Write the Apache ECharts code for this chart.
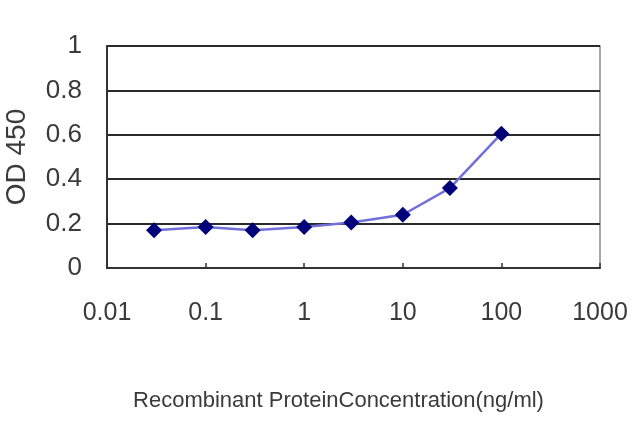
<!DOCTYPE html>
<html>
<head>
<meta charset="utf-8">
<script src="https://cdn.jsdelivr.net/npm/echarts@6/dist/echarts.min.js"></script>
<style>html,body{margin:0;padding:0;background:#fff}#c{width:640px;height:427px}</style>
</head>
<body>
<div id="c"></div>
<script>
var concentrations = [0.03, 0.1, 0.3, 1, 3, 10, 30, 100];
var odValues = [0.17, 0.185, 0.17, 0.185, 0.205, 0.24, 0.36, 0.605];
var yTicks = [0, 0.2, 0.4, 0.6, 0.8, 1];
var xTicks = [0.01, 0.1, 1, 10, 100, 1000];

var chart = echarts.init(document.getElementById('c'));
var font = '"Liberation Sans", Arial, sans-serif';
chart.setOption({
  backgroundColor: '#fff',
  animation: false,
  grid: {left: 107, right: 40, top: 46, bottom: 159, outerBoundsMode: 'none', containLabel: false,
    show: true, borderColor: '#8a8a8a', borderWidth: 1.5, backgroundColor: 'transparent'},
  xAxis: {
    type: 'log', logBase: 10, min: xTicks[0], max: xTicks[xTicks.length - 1],
    name: 'Recombinant ProteinConcentration(ng/ml)',
    nameLocation: 'middle', nameGap: 122,
    nameTextStyle: {fontFamily: font, fontSize: 22, color: '#3a3a3a', padding: [0, 30, 0, 0]},
    axisLine: {show: true, lineStyle: {color: '#333', width: 2}},
    axisTick: {show: true, inside: true, length: 5, lineStyle: {color: '#333', width: 1.5}},
    splitLine: {show: false},
    minorTick: {show: false},
    axisLabel: {fontFamily: font, fontSize: 25, color: '#3a3a3a', margin: 33, hideOverlap: false,
      formatter: function (v) { return String(v); }}
  },
  yAxis: {
    type: 'value', min: yTicks[0], max: yTicks[yTicks.length - 1], interval: 0.2,
    name: 'OD 450', nameLocation: 'middle', nameGap: 76,
    nameTextStyle: {fontFamily: font, fontSize: 28, color: '#3a3a3a'},
    axisLine: {show: true, lineStyle: {color: '#333', width: 2}},
    axisTick: {show: false},
    splitLine: {show: true, lineStyle: {color: '#2a2a2a', width: 2}},
    axisLabel: {fontFamily: font, fontSize: 26, color: '#3a3a3a', margin: 25,
      formatter: function (v) { return String(Math.round(v * 10) / 10); }}
  },
  series: [{
    type: 'line',
    data: concentrations.map(function (c, i) { return [c, odValues[i]]; }),
    symbol: 'diamond', symbolSize: 16,
    lineStyle: {color: '#7070d8', width: 2.5},
    itemStyle: {color: '#00007a'},
    z: 5
  }]
});
</script>
</body>
</html>
